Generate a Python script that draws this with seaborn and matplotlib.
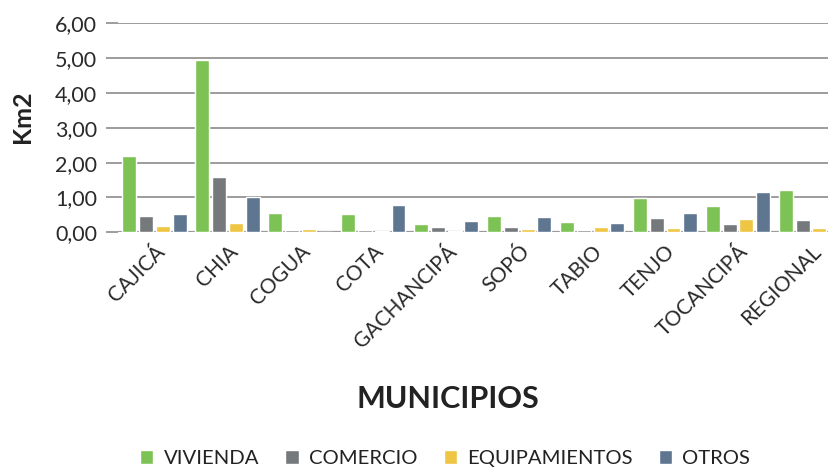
import matplotlib.pyplot as plt
import pandas as pd
import seaborn as sns
from matplotlib.ticker import FuncFormatter, MultipleLocator

# Data (Km2 por municipio y uso)
municipios = ["CAJICÁ", "CHIA", "COGUA", "COTA", "GACHANCIPÁ", "SOPÓ",
              "TABIO", "TENJO", "TOCANCIPÁ", "REGIONAL"]
usos = ["VIVIENDA", "COMERCIO", "EQUIPAMIENTOS", "OTROS"]

vivienda = [2.19, 4.95, 0.55, 0.53, 0.24, 0.47, 0.30, 0.99, 0.76, 1.22]
comercio = [0.47, 1.59, 0.07, 0.07, 0.15, 0.15, 0.07, 0.41, 0.24, 0.35]
equipamientos = [0.18, 0.27, 0.10, 0.04, 0.04, 0.10, 0.15, 0.12, 0.38, 0.12]
otros = [0.53, 1.01, 0.00, 0.78, 0.32, 0.44, 0.27, 0.55, 1.16, 1.10]

colores = ["#7dc254", "#76797c", "#eec643", "#5f7691"]

df = pd.DataFrame({
    "municipio": municipios * 4,
    "uso": [u for u in usos for _ in municipios],
    "km2": vivienda + comercio + equipamientos + otros,
})

sns.set_style("white")
plt.rcParams["font.family"] = ["Lato", "DejaVu Sans"]

fig = plt.figure(figsize=(8.29, 4.68), dpi=100)
ax = fig.add_axes([0.1423, 0.5036, 0.88, 0.4467])

sns.barplot(data=df, x="municipio", y="km2", hue="uso", order=municipios,
            hue_order=usos, palette=colores, width=0.92, gap=0.17,
            saturation=1, ax=ax)

ax.set_ylim(0, 6)
ax.set_xlim(-0.5, 9.5)
ax.yaxis.set_major_locator(MultipleLocator(1))
ax.yaxis.set_major_formatter(FuncFormatter(lambda v, p: f"{v:.2f}".replace(".", ",")))
ax.grid(axis="y", color="#9c9c9c", linewidth=1.4)
ax.set_axisbelow(True)
for s in ax.spines.values():
    s.set_visible(False)
ax.axhline(0, color="#8a8a8a", linewidth=1.6, zorder=0.5)

ax.tick_params(axis="y", left=True, length=9, width=1.2, color="#8c8c8c",
               labelsize=15.5, pad=6, labelcolor="#2a2a2a")
ax.tick_params(axis="x", bottom=False, labelsize=15, pad=3, labelcolor="#2a2a2a")
plt.setp(ax.get_xticklabels(), rotation=45, ha="right", rotation_mode="anchor")

ax.set_ylabel("Km2", fontsize=18, fontweight="bold", color="#222222")
ax.yaxis.set_label_coords(-0.115, 0.555)
ax.set_xlabel("")
fig.text(0.54, 0.148, "MUNICIPIOS", fontsize=22, fontweight="bold",
         ha="center", va="center", color="#222222")

handles, labels = ax.get_legend_handles_labels()
ax.legend(handles, labels, loc="center", bbox_to_anchor=(0.537, 0.021),
          bbox_transform=fig.transFigure, ncol=4, frameon=False, fontsize=14.6,
          handlelength=0.65, handleheight=0.7, handletextpad=0.5,
          columnspacing=1.3, labelcolor="#222222")

fig.savefig("out.png")
